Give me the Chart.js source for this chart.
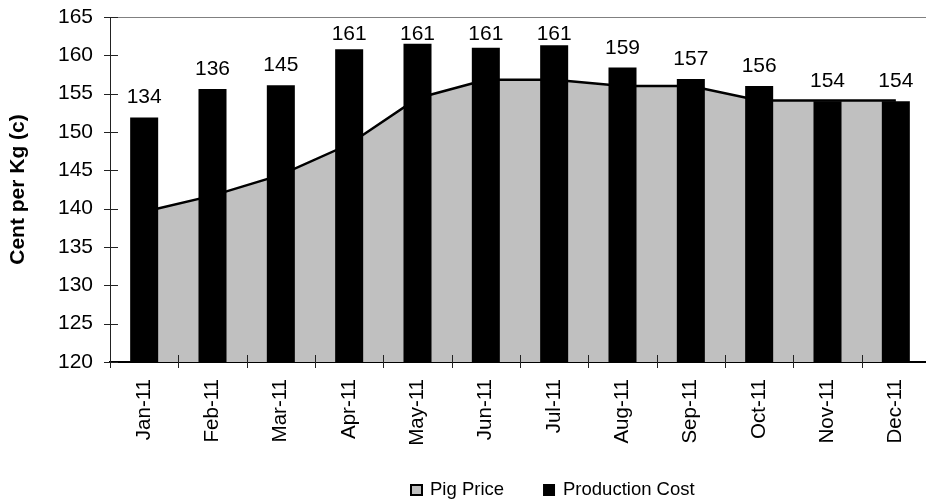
<!DOCTYPE html>
<html>
<head>
<meta charset="utf-8">
<script src="https://cdn.jsdelivr.net/npm/chart.js@4.4.0/dist/chart.umd.min.js"></script>
<style>
  html, body { margin: 0; padding: 0; background: #fff; overflow: hidden; }
</style>
</head>
<body>
<canvas id="chart" width="930" height="501"></canvas>
<script>
const months = ["Jan-11", "Feb-11", "Mar-11", "Apr-11", "May-11", "Jun-11",
                "Jul-11", "Aug-11", "Sep-11", "Oct-11", "Nov-11", "Dec-11"];
const pigPrice = [139.6, 141.7, 144.4, 148.4, 154.4, 156.8, 156.8, 156.0, 156.0, 154.1, 154.1, 154.1];
const productionCost = [151.9, 155.6, 156.1, 160.8, 161.5, 161.0, 161.3, 158.4, 156.9, 156.0, 154.0, 154.0];
const costLabels = [134, 136, 145, 161, 161, 161, 161, 159, 157, 156, 154, 154];
const Y_MIN = 120, Y_MAX = 165, Y_STEP = 5;

const FONT = "'Liberation Sans', Arial, sans-serif";

// ticks that cross the axis lines + grey top border
const axisMarks = {
  id: "axisMarks",
  afterDraw(chart) {
    const { ctx, chartArea: a, scales: { x, y } } = chart;
    ctx.save();
    ctx.lineWidth = 1;
    ctx.strokeStyle = "#808080";
    ctx.beginPath();
    ctx.moveTo(a.left, a.top + 0.5);
    ctx.lineTo(a.right, a.top + 0.5);
    ctx.stroke();

    ctx.strokeStyle = "#222";
    ctx.beginPath();
    y.ticks.forEach((t) => {
      const py = Math.round(y.getPixelForValue(t.value)) + 0.5;
      ctx.moveTo(a.left - 6, py);
      ctx.lineTo(a.left + 8, py);
    });
    for (let i = 0; i < months.length; i++) {
      const px = Math.round(x.getPixelForValue(i - 0.5)) + 0.5;
      ctx.moveTo(px, a.bottom - 7);
      ctx.lineTo(px, a.bottom + 6);
    }
    ctx.stroke();
    ctx.restore();
  },
};

// numbers above the bars
const barLabels = {
  id: "barLabels",
  afterDatasetsDraw(chart) {
    const { ctx, chartArea } = chart;
    const meta = chart.getDatasetMeta(1);
    ctx.save();
    ctx.font = "21px " + FONT;
    ctx.fillStyle = "#000";
    ctx.textAlign = "center";
    ctx.textBaseline = "alphabetic";
    meta.data.forEach((bar, i) => {
      const yy = Math.max(bar.y - 14, chartArea.top + 23);
      ctx.fillText(String(costLabels[i]), bar.x, yy);
    });
    ctx.restore();
  },
};

// legend under the labels
const bottomLegend = {
  id: "bottomLegend",
  afterDraw(chart) {
    const { ctx } = chart;
    const ds = chart.data.datasets;
    ctx.save();
    ctx.font = "18.5px " + FONT;
    ctx.textBaseline = "middle";
    ctx.textAlign = "left";
    let x = 410;
    const cy = 490;
    ds.forEach((d) => {
      if (d.type === "line") {
        ctx.fillStyle = d.backgroundColor;
        ctx.fillRect(x + 1, cy - 5, 11, 10);
        ctx.strokeStyle = "#000";
        ctx.lineWidth = 2;
        ctx.strokeRect(x + 1, cy - 5, 11, 10);
      } else {
        ctx.fillStyle = d.backgroundColor;
        ctx.fillRect(x, cy - 6, 12, 12);
      }
      ctx.fillStyle = "#000";
      ctx.fillText(d.label, x + 20, cy);
      x += 20 + ctx.measureText(d.label).width + 39;
    });
    ctx.restore();
  },
};

new Chart(document.getElementById("chart"), {
  type: "bar",
  data: {
    labels: months,
    datasets: [
      {
        type: "line",
        label: "Pig Price",
        data: pigPrice,
        fill: "start",
        backgroundColor: "#c0c0c0",
        borderColor: "#000",
        borderWidth: 2.5,
        pointRadius: 0,
        tension: 0,
        order: 2,
      },
      {
        type: "bar",
        label: "Production Cost",
        data: productionCost,
        backgroundColor: "#000",
        barPercentage: 0.41,
        categoryPercentage: 1,
        order: 1,
      },
    ],
  },
  options: {
    responsive: false,
    animation: false,
    layout: { padding: { top: 17, left: 0, right: 0, bottom: 0 } },
    plugins: {
      legend: { display: false },
      tooltip: { enabled: false },
    },
    scales: {
      x: {
        offset: true,
        grid: { drawOnChartArea: false, drawTicks: false },
        border: { color: "#000", width: 2 },
        ticks: {
          autoSkip: false,
          minRotation: 90,
          maxRotation: 90,
          padding: 17,
          color: "#000",
          font: { family: FONT, size: 20.5 },
        },
        afterFit(s) {
          s.height = 139;
          s.paddingLeft = 0;
          s.paddingRight = 0;
        },
      },
      y: {
        min: Y_MIN,
        max: Y_MAX,
        grid: { drawOnChartArea: false, drawTicks: false },
        border: { color: "#222", width: 1 },
        ticks: {
          stepSize: Y_STEP,
          padding: 17,
          color: "#000",
          font: { family: FONT, size: 21 },
        },
        title: {
          display: true,
          text: "Cent per Kg (c)",
          color: "#000",
          font: { family: FONT, size: 21, weight: "bold" },
          padding: { top: 6, bottom: 0 },
        },
        afterFit(s) {
          s.width = 110;
          s.paddingTop = 0;
          s.paddingBottom = 0;
        },
      },
    },
  },
  plugins: [axisMarks, barLabels, bottomLegend],
});
</script>
</body>
</html>
